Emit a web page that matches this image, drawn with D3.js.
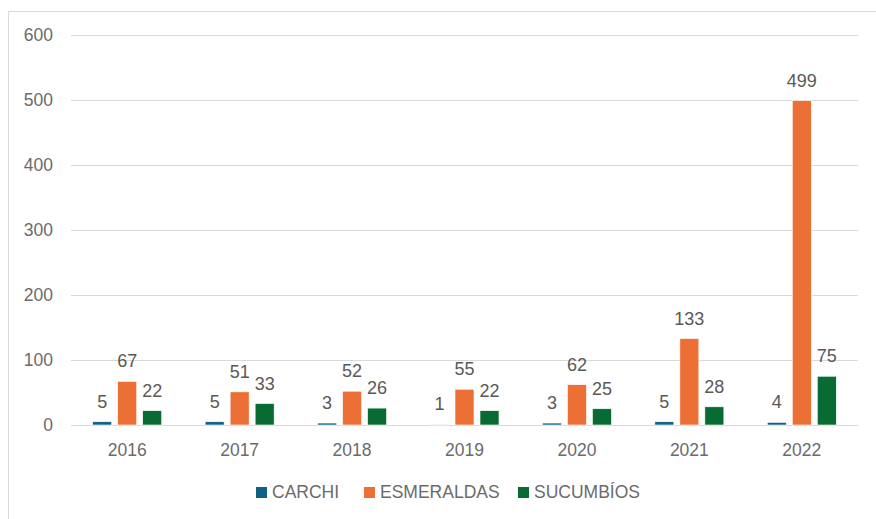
<!DOCTYPE html>
<html>
<head>
<meta charset="utf-8">
<script src="https://cdn.jsdelivr.net/npm/d3@7"></script>
<style>
  body { margin: 0; background: #fff; }
  svg text { font-family: "Liberation Sans", Arial, sans-serif; }
  .tick text { fill: #6b6b6b; font-size: 17.5px; }
  .grid line { stroke: #d9d9d9; stroke-width: 1; }
  .label { fill: #595959; font-size: 18px; text-anchor: middle; }
  .legend text { fill: #6b6b6b; font-size: 17.5px; }
</style>
</head>
<body>
<svg width="876" height="519"></svg>
<script>
// data
let years = ["2016", "2017", "2018", "2019", "2020", "2021", "2022"];
let seriesNames = ["CARCHI", "ESMERALDAS", "SUCUMBÍOS"];
let carchi = [5, 5, 3, 1, 3, 5, 4];
let esmeraldas = [67, 51, 52, 55, 62, 133, 499];
let sucumbios = [22, 33, 26, 22, 25, 28, 75];
let yTicks = [0, 100, 200, 300, 400, 500, 600];
let colors = ["#0f6086", "#ec7035", "#096b34"];

let svg = d3.select("svg");
let plotLeft = 71, plotRight = 858, plotTop = 35, plotBottom = 425;
let groupWidth = 69;

// frame
svg.append("rect")
    .attr("x", 8.5).attr("y", 11.5)
    .attr("width", 900).attr("height", 600)
    .attr("fill", "none").attr("stroke", "#d9d9d9");

let x = d3.scaleBand().domain(years).range([plotLeft, plotRight]);
let yScale = d3.scaleLinear().domain([0, 600]).range([plotBottom, plotTop]);
let x1 = d3.scaleBand().domain(seriesNames).range([0, groupWidth]).paddingInner(0.24);

// gridlines
let grid = svg.append("g").attr("class", "grid")
    .attr("transform", "translate(" + plotLeft + ",0)")
    .call(d3.axisLeft(yScale).tickValues(yTicks).tickSize(-(plotRight - plotLeft)).tickFormat(d3.format("d")));
grid.select(".domain").remove();
grid.selectAll(".tick text").attr("x", -(plotLeft - 53)).attr("text-anchor", "end");

// x axis
let xAxis = svg.append("g")
    .attr("transform", "translate(0," + plotBottom + ")")
    .call(d3.axisBottom(x).tickSize(0));
xAxis.select(".domain").remove();
xAxis.selectAll(".tick text").attr("y", 31).attr("dy", 0);

let rows = [carchi, esmeraldas, sucumbios];
let groups = svg.selectAll("g.year")
    .data(years)
    .enter().append("g")
    .attr("class", "year")
    .attr("transform", function(d) { return "translate(" + (x(d) + x.bandwidth() / 2 - groupWidth / 2) + ",0)"; });

rows.forEach(function(vals, s) {
    groups.append("rect")
        .attr("x", x1(seriesNames[s]))
        .attr("width", x1.bandwidth())
        .attr("y", function(d, i) { return yScale(vals[i]); })
        .attr("height", function(d, i) { return plotBottom - yScale(vals[i]); })
        .attr("fill", colors[s])
        .attr("stroke", "#fff").attr("stroke-width", 0.6);

    groups.append("text")
        .attr("class", "label")
        .attr("x", x1(seriesNames[s]) + x1.bandwidth() / 2)
        .attr("y", function(d, i) { return yScale(vals[i]) - 14; })
        .text(function(d, i) { return vals[i]; });
});

// legend
let legendX = [256, 364, 518];
let legend = svg.append("g").attr("class", "legend");
seriesNames.forEach(function(n, i) {
    legend.append("rect")
        .attr("x", legendX[i]).attr("y", 487)
        .attr("width", 11).attr("height", 11)
        .attr("fill", colors[i]);
    legend.append("text")
        .attr("x", legendX[i] + 16).attr("y", 498)
        .text(n);
});
</script>
</body>
</html>
